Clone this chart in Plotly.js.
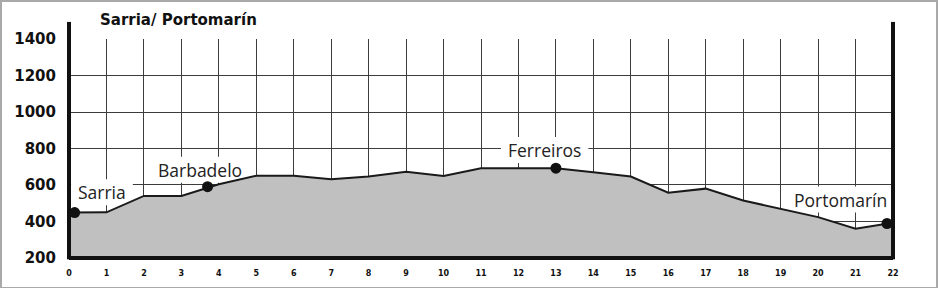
<!DOCTYPE html>
<html>
<head>
<meta charset="utf-8">
<script src="https://cdn.plot.ly/plotly-3.0.1.min.js"></script>
<style>
  html, body { margin: 0; padding: 0; background: #fff; }
  #wrap { position: relative; width: 939px; height: 288px; }
  #chart { width: 939px; height: 288px; }
  #frame { position: absolute; left: 0px; top: 0px; width: 934px; height: 285px;
           border: 2px solid #a9a9a9; pointer-events: none; }
</style>
</head>
<body>
<div id="wrap"><div id="chart"></div><div id="frame"></div></div>
<script>
// Profile data: distance (km) and elevation (m)
const distanceKm = [0, 1, 2, 3, 4, 5, 6, 7, 8, 9, 10, 11, 12, 13, 14, 15, 16, 17, 18, 19, 20, 21, 22];
const elevationM = [449, 450, 540, 540, 604, 651, 650, 632, 646, 673, 650, 692, 692, 692, 670, 646, 558, 580, 515, 468, 424, 360, 393];

// Named places on the route
const placeNames = ["Sarria", "Barbadelo", "Ferreiros", "Portomarín"];
const placeKm    = [0.15, 3.7, 13, 21.84];
const placeElev  = [449, 591, 692, 389];
// Label anchor positions (in data units)
const labelKm    = [0.88, 3.5, 12.7, 20.6];
const labelElev  = [560, 683, 792, 520];

const titleText = "Sarria/ Portomarín";
const xTicks = [0,1,2,3,4,5,6,7,8,9,10,11,12,13,14,15,16,17,18,19,20,21,22];
const yTicks = [200, 400, 600, 800, 1000, 1200, 1400];

// pixel geometry of the plot area (used only to size label backgrounds)
const W = 939, H = 288, ML = 69, MR = 46, MT = 39, MB = 30;
const xRange = [0, 22], yRange = [199.9, 1400.1];
const kmPerPx = (xRange[1] - xRange[0]) / (W - ML - MR);
const mPerPx = (yRange[1] - yRange[0]) / (H - MT - MB);
const labelFont = {family: 'Open Sans', size: 17.5, color: '#222'};

const profile = {
  x: distanceKm, y: elevationM, type: 'scatter', mode: 'lines',
  fill: 'tozeroy', fillcolor: '#c0c0c0',
  line: {color: '#1a1a1a', width: 2},
  hoverinfo: 'skip'
};
const places = {
  x: placeKm, y: placeElev, type: 'scatter', mode: 'markers',
  marker: {color: '#111', size: 11},
  cliponaxis: false, hoverinfo: 'skip'
};

const annotations = placeNames.map((n, i) => ({
  x: labelKm[i], y: labelElev[i], xref: 'x', yref: 'y',
  text: n, showarrow: false, borderpad: 0,
  font: labelFont
}));

// white label backgrounds, drawn between gridlines and traces
function textWidthPx(s) {
  const c = document.createElement('canvas').getContext('2d');
  c.font = labelFont.size + 'px "' + labelFont.family + '"';
  return c.measureText(s).width;
}
const labelBoxes = placeNames.map((n, i) => {
  const hw = (textWidthPx(n) / 2 + 7) * kmPerPx;
  const hh = 13 * mPerPx;
  return {type: 'rect', layer: 'between', xref: 'x', yref: 'y',
          x0: labelKm[i] - hw, x1: labelKm[i] + hw,
          y0: labelElev[i] - hh, y1: labelElev[i] + hh,
          fillcolor: '#ffffff', line: {width: 0}};
});

const topY = 1.078;
const shapes = labelBoxes.concat([
  {type: 'line', xref: 'paper', yref: 'paper', x0: 0, x1: 0, y0: -0.006, y1: topY, line: {color: '#111', width: 4}},
  {type: 'line', xref: 'paper', yref: 'paper', x0: 1, x1: 1, y0: -0.006, y1: topY, line: {color: '#111', width: 4}},
  {type: 'line', xref: 'paper', yref: 'paper', x0: 0, x1: 1, y0: 0, y1: 0, line: {color: '#111', width: 4}}
]);

const layout = {
  width: W, height: H,
  margin: {l: ML, r: MR, t: MT, b: MB},
  paper_bgcolor: '#fff', plot_bgcolor: '#fff',
  showlegend: false,
  title: {
    text: '<b>' + titleText + '</b>', xref: 'container', yref: 'container',
    x: 100/939, xanchor: 'left', y: 1 - 20/288, yanchor: 'middle',
    font: {family: 'DejaVu Sans', size: 15, color: '#111'}
  },
  xaxis: {
    range: xRange, tickvals: xTicks, ticktext: xTicks.map(String),
    showgrid: true, gridcolor: '#3c3c3c', gridwidth: 1,
    zeroline: false, showline: false, ticks: '',
    ticklabelstandoff: 9,
    tickfont: {family: 'DejaVu Sans', size: 8, color: '#111', weight: 'bold'},
    fixedrange: true
  },
  yaxis: {
    range: yRange, tickvals: yTicks, ticktext: yTicks.map(String),
    showgrid: true, gridcolor: '#3c3c3c', gridwidth: 1,
    zeroline: false, showline: false, ticks: '',
    ticklabelstandoff: 12,
    tickfont: {family: 'DejaVu Sans', size: 15, color: '#111', weight: 'bold'},
    fixedrange: true
  },
  shapes: shapes,
  annotations: annotations
};

document.fonts.load(labelFont.size + 'px "Open Sans"').then(() => {
  Plotly.newPlot('chart', [profile, places], layout, {staticPlot: true, displayModeBar: false});
});
</script>
</body>
</html>
